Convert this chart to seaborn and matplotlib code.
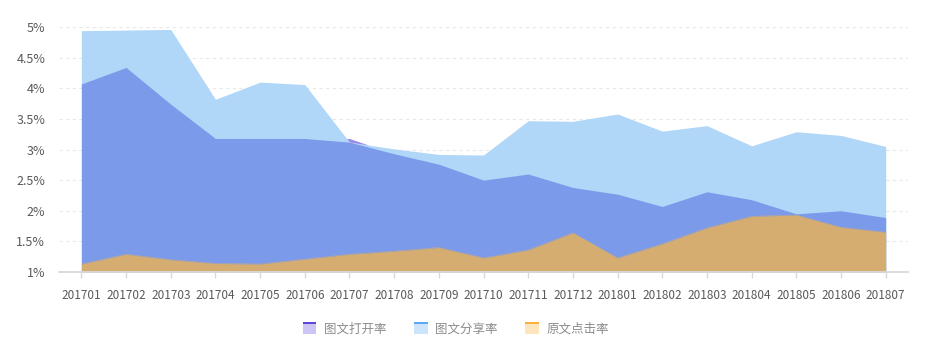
import numpy as np
import pandas as pd
import matplotlib
matplotlib.use("Agg")
import matplotlib.pyplot as plt
import seaborn as sns
from matplotlib.legend_handler import HandlerBase
from matplotlib.patches import Rectangle

months = ["201701", "201702", "201703", "201704", "201705", "201706", "201707",
          "201708", "201709", "201710", "201711", "201712", "201801", "201802",
          "201803", "201804", "201805", "201806", "201807"]
open_rate = [4.07, 4.34, 3.74, 3.18, 3.18, 3.18, 3.18, 2.93, 2.76, 2.50, 2.60,
             2.38, 2.27, 2.07, 2.31, 2.18, 1.95, 2.00, 1.89]
share_rate = [4.94, 4.95, 4.96, 3.82, 4.10, 4.06, 3.12, 3.01, 2.92, 2.91, 3.47,
              3.46, 3.58, 3.30, 3.39, 3.06, 3.29, 3.23, 3.05]
click_rate = [1.13, 1.29, 1.20, 1.14, 1.13, 1.21, 1.29, 1.34, 1.40, 1.23, 1.36,
              1.64, 1.23, 1.46, 1.72, 1.91, 1.93, 1.73, 1.65]
series_names = ["图文打开率", "图文分享率", "原文点击率"]
y_ticks = [1, 1.5, 2, 2.5, 3, 3.5, 4, 4.5, 5]

df = pd.DataFrame({"month": months, "open": open_rate,
                   "share": share_rate, "click": click_rate})
df["x"] = np.arange(len(df))

sns.set_theme(style="white")
plt.rcParams["font.family"] = ["Noto Sans CJK SC", "DejaVu Sans"]

fig = plt.figure(figsize=(9.34, 3.49), dpi=100)
ax = fig.add_axes([0.0632, 0.2206, 0.909, 0.702])

x = df["x"].to_numpy()
o = df["open"].to_numpy()
s = df["share"].to_numpy()
c = df["click"].to_numpy()

col_share = "#b0d6f8"
col_overlap = "#7b9aea"
col_purple = "#9d8ee8"
col_click = "#d5ad70"

ax.fill_between(x, 1, s, color=col_share, lw=0, zorder=2)
ax.fill_between(x, 1, np.minimum(o, s), color=col_overlap, lw=0, zorder=3)
ax.fill_between(x, s, o, where=o > s, interpolate=True, color=col_purple, lw=0, zorder=3)
ax.fill_between(x, 1, c, color=col_click, lw=0, zorder=4)
sns.lineplot(data=df, x="x", y="click", ax=ax, color=col_click, lw=0.3, zorder=4)

ax.set_xlim(-0.5, len(months) - 0.5)
ax.set_ylim(1, 5)
ax.set_xticks(x)
ax.set_xticklabels(months)
ax.set_yticks(y_ticks)
ax.set_yticklabels([f"{v:g}%" for v in y_ticks])
ax.set_xlabel("")
ax.set_ylabel("")

for v in y_ticks[1:]:
    ax.axhline(v, color="#e8e8e8", lw=0.8, ls=(0, (3, 3)), zorder=1)

for sp in ["top", "right", "left"]:
    ax.spines[sp].set_visible(False)
ax.spines["bottom"].set_color("#d9d9d9")
ax.spines["bottom"].set_linewidth(1.3)
ax.spines["bottom"].set_zorder(5)

ax.tick_params(axis="x", length=4, width=1, color="#d9d9d9", labelsize=8.5,
               labelcolor="#595959", pad=8, bottom=True)
ax.tick_params(axis="y", length=0, labelsize=9, labelcolor="#595959", pad=10)


class SwatchHandler(HandlerBase):
    def __init__(self, top, fill):
        super().__init__()
        self.top = top
        self.fill = fill

    def create_artists(self, legend, orig_handle, xdescent, ydescent, width,
                       height, fontsize, trans):
        w = 10
        h = 9
        x0 = (width - w) / 2 - xdescent
        y0 = (height - h) / 2 - ydescent
        r1 = Rectangle((x0, y0), w, h, facecolor=self.fill, edgecolor="none",
                       transform=trans)
        r2 = Rectangle((x0, y0 + h - 2), w, 2, facecolor=self.top,
                       edgecolor="none", transform=trans)
        return [r1, r2]


handles = [Rectangle((0, 0), 1, 1) for _ in range(3)]
handler_map = {
    handles[0]: SwatchHandler("#5b47d9", "#cdc6f4"),
    handles[1]: SwatchHandler("#5aa9f7", "#cce5fc"),
    handles[2]: SwatchHandler("#fbb13a", "#fde5c0"),
}
fig.legend(handles, series_names, handler_map=handler_map, loc="center",
           bbox_to_anchor=(0.488, 0.058), ncol=3, frameon=False, fontsize=9,
           labelcolor="#8c8c8c", handlelength=1.1, handletextpad=0.6,
           columnspacing=2.2)

fig.savefig("out.png", dpi=100)
